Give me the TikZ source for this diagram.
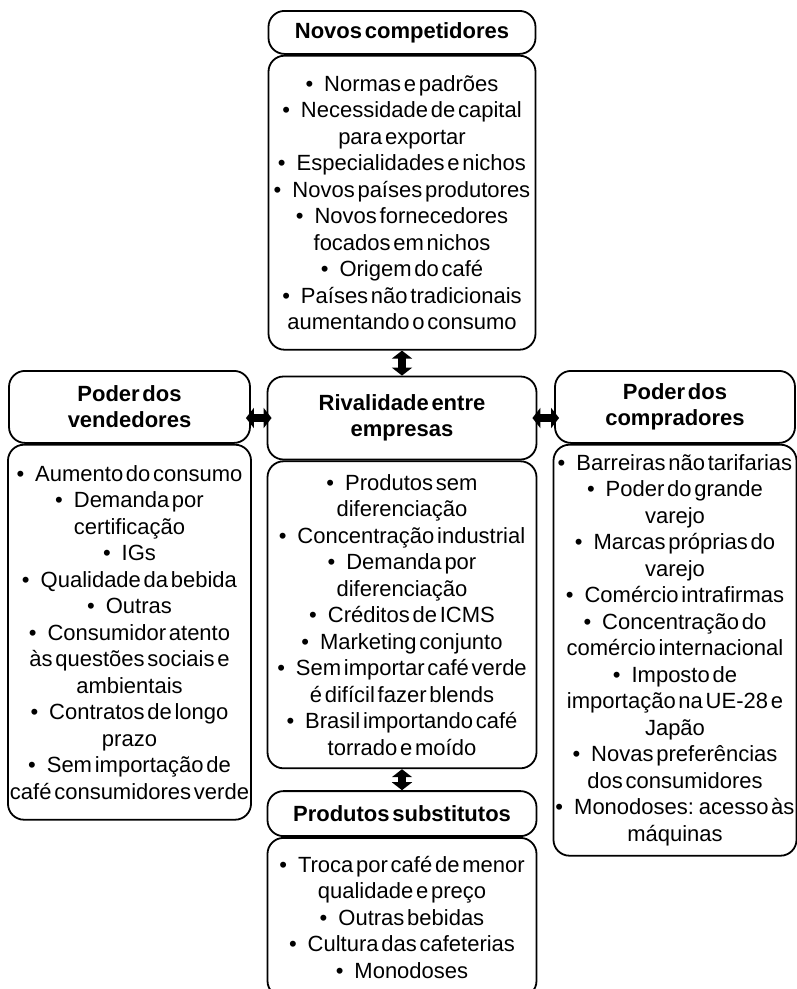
\documentclass[tikz,border=0pt]{standalone}
\usepackage{fontspec}
\setmainfont{Liberation Sans}[WordSpace=0.45]
\usetikzlibrary{arrows.meta, positioning}

\tikzset{
	head/.style={draw, line width=1.8pt, rounded corners=16pt, align=center,
		inner sep=2pt, font=\fontsize{22}{26}\selectfont\bfseries},
	body/.style={draw, line width=1.8pt, rounded corners=16pt, align=center,
		inner sep=2pt, font=\fontsize{22}{26.5}\selectfont},
	link/.style={line width=8pt, {Triangle[width=20pt,length=8pt]}-{Triangle[width=20pt,length=8pt]}}
}
\newcommand{\bul}{\textbullet\enspace}

\begin{document}
\begin{tikzpicture}[x=1pt,y=-1pt]
		\useasboundingbox (0,0) rectangle (797,989);
		% novos competidores
		\node[head, minimum width=267pt, minimum height=43pt, anchor=north] (nchead) at (402,10) {Novos competidores};
		\node[body, minimum width=267pt, minimum height=294pt, below=0pt of nchead] (ncbody)
			{\bul Normas e padrões\\ \bul Necessidade de capital\\ para exportar\\ \bul Especialidades e nichos\\
			 \bul Novos países produtores\\ \bul Novos fornecedores\\ focados em nichos\\ \bul Origem do café\\
			 \bul Países não tradicionais\\ aumentando o consumo};
		% rivalidade
		\node[head, minimum width=269pt, minimum height=83pt, below=25pt of ncbody] (rihead) {Rivalidade entre\\ empresas};
		\node[body, minimum width=269pt, minimum height=307pt, below=0pt of rihead] (ribody)
			{\bul Produtos sem\\ diferenciação\\ \bul Concentração industrial\\ \bul Demanda por\\ diferenciação\\
			 \bul Créditos de ICMS\\ \bul Marketing conjunto\\ \bul Sem importar café verde\\ é difícil fazer blends\\
			 \bul Brasil importando café\\ torrado e moído};
		% produtos substitutos
		\node[head, minimum width=269pt, minimum height=45pt, below=21pt of ribody] (pshead) {Produtos substitutos};
		\node[body, minimum width=269pt, minimum height=159pt, below=0pt of pshead] (psbody)
			{\bul Troca por café de menor\\ qualidade e preço\\ \bul Outras bebidas\\ \bul Cultura das cafeterias\\ \bul Monodoses};
		% poder dos vendedores
		\node[head, minimum width=241pt, minimum height=72pt, anchor=north] (pvhead) at (129.5,370) {Poder dos\\ vendedores};
		\node[body, minimum width=241pt, minimum height=375pt, below=0pt of pvhead] (pvbody)
			{\bul Aumento do consumo\\ \bul Demanda por\\ certificação\\ \bul IGs\\ \bul Qualidade da bebida\\ \bul Outras\\
			 \bul Consumidor atento\\ às questões sociais e\\ ambientais\\ \bul Contratos de longo\\ prazo\\
			 \bul Sem importação de\\ café consumidores verde};
		% poder dos compradores
		\node[head, minimum width=240pt, minimum height=72pt, anchor=north] (pchead) at (675,370) {Poder dos\\ compradores};
		\node[body, minimum width=240pt, minimum height=411pt, below=0pt of pchead] (pcbody)
			{\bul Barreiras não tarifarias\\ \bul Poder do grande\\ varejo\\ \bul Marcas próprias do\\ varejo\\
			 \bul Comércio intrafirmas\\ \bul Concentração do\\ comércio internacional\\ \bul Imposto de\\
			 importação na UE-28 e\\ Japão\\ \bul Novas preferências\\ dos consumidores\\
			 \bul Monodoses: acesso às\\ máquinas};
		% setas
		\draw[link] (ncbody.south) -- (rihead.north);
		\draw[link] (ribody.south) -- (pshead.north);
		\draw[link, shorten <=-5pt, shorten >=-5pt] (rihead.west) -- (pvhead.east |- rihead.west);
		\draw[link, shorten <=-5pt, shorten >=-5pt] (rihead.east) -- (pchead.west |- rihead.east);
	\end{tikzpicture}
\end{document}
